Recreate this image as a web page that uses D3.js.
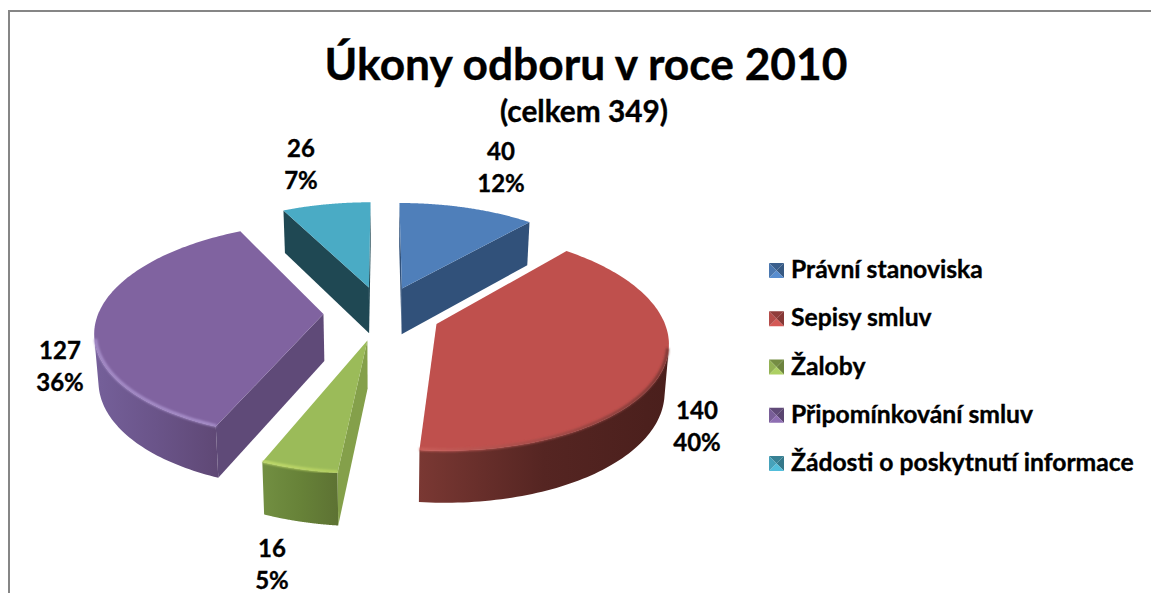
<!DOCTYPE html>
<html>
<head>
<meta charset="utf-8">
<script src="https://cdn.jsdelivr.net/npm/d3@7"></script>
<style>
  html, body { margin: 0; padding: 0; background: #fff; overflow: hidden; }
  svg { display: block; }
  text { font-family: Lato, "Open Sans", sans-serif; font-weight: 700; fill: #000; stroke: #000; stroke-width: 0.35px; }
</style>
</head>
<body>
<div id="chart"></div>
<script>
// data
const categories = ["Právní stanoviska", "Sepisy smluv", "Žaloby", "Připomínkování smluv", "Žádosti o poskytnutí informace"];
const values = [40, 140, 16, 127, 26];
const percents = ["12%", "40%", "5%", "36%", "7%"];

// colours, same order as categories
const topColors = ["#4f7fba", "#bf504d", "#9bbb59", "#8063a0", "#4aabc5"];
const cutColors = ["#31517a", "#5c2a28", "#84a04a", "#5f4a78", "#1f4853"];
const rimLeft = ["#3c6291", "#7a3833", "#728f42", "#75609a", "#38808f"];
const rimMid = ["#35567f", "#552522", "#678238", "#6a5489", "#30707f"];
const rimRight = ["#31517a", "#4a1f1c", "#5d7233", "#5f4875", "#2b6270"];
const bevelLeft = ["#6d99cf", "#cb5f5b", "#c3dd6d", "#a78fca", "#6fc5da"];
const bevelRight = ["#6d99cf", "#7a3734", "#b5d060", "#a78fca", "#6fc5da"];

// label layout: centre of each two line data label
const labelX = [501, 697, 272, 60, 301];
const labelY = [168, 427, 565, 367, 165];

const width = 1151, height = 593;

// perspective settings of the pie
const cx = 382, cy = 313;
const scaleX = 225, scaleY = 104.6, persp = 0.1466;
const explode = 0.26;
const depth = 46.9, depthPersp = 0.09;

function project(x, y, bottom) {
  const w = 1 + persp * y;
  let sx = scaleX * x / w;
  let sy = -scaleY * y / w;
  if (bottom) {
    sx = sx * 0.985;
    sy = sy + depth / (1 + depthPersp * y);
  }
  return [cx + sx, cy + sy];
}

function area(p) {
  let s = 0;
  for (let i = 0; i < p.length; i++) {
    const a = p[i], b = p[(i + 1) % p.length];
    s += a[0] * b[1] - b[0] * a[1];
  }
  return s / 2;
}

const svg = d3.select("#chart").append("svg")
  .attr("width", width)
  .attr("height", height);

const defs = svg.append("defs");
defs.append("filter").attr("id", "soft")
  .attr("x", "-10%").attr("y", "-10%").attr("width", "120%").attr("height", "120%")
  .append("feGaussianBlur").attr("stdDeviation", 0.9);

function sideGradient(id, x0, x1, colors) {
  const grad = defs.append("linearGradient")
    .attr("id", id)
    .attr("gradientUnits", "userSpaceOnUse")
    .attr("x1", x0).attr("y1", 0)
    .attr("x2", x1).attr("y2", 0);
  colors.forEach(function(c, k) {
    grad.append("stop")
      .attr("offset", k / (colors.length - 1))
      .attr("stop-color", c);
  });
}

// frame, only the top and left edges are inside the picture
svg.append("path")
  .attr("d", "M9,593V11H1151")
  .attr("fill", "none")
  .attr("stroke", "#868686")
  .attr("stroke-width", 2);

// title
svg.append("text").attr("x", 586).attr("y", 80)
  .attr("text-anchor", "middle").attr("font-size", 44.3)
  .text("Úkony odboru v roce 2010");
svg.append("text").attr("x", 584).attr("y", 122)
  .attr("text-anchor", "middle").attr("font-size", 29.8)
  .text("(celkem 349)");

// slices
const pie = d3.pie().sort(null)(values);
const line = d3.line();
const paintOrder = [4, 0, 3, 1, 2];

paintOrder.forEach(function(i) {
  const d = pie[i];
  const mid = (d.startAngle + d.endAngle) / 2;
  const ox = explode * Math.sin(mid), oy = explode * Math.cos(mid);
  const g = svg.append("g");

  const steps = d3.range(0, 121).map(function(k) {
    return d.startAngle + (d.endAngle - d.startAngle) * k / 120;
  });
  const rim = function(a, bottom) {
    return project(ox + Math.sin(a), oy + Math.cos(a), bottom);
  };
  const apexTop = project(ox, oy, false), apexBottom = project(ox, oy, true);

  // outer wall, only the part that faces the viewer
  const front = steps.filter(function(a, k) {
    if (k == steps.length - 1) return false;
    const b = steps[k + 1];
    return area([rim(a, false), rim(b, false), rim(b, true), rim(a, true)]) < 0;
  });
  if (front.length > 0) {
    front.push(front[front.length - 1] + (d.endAngle - d.startAngle) / 120);
    const wall = front.map(function(a) { return rim(a, false); })
      .concat(front.slice().reverse().map(function(a) { return rim(a, true); }));
    const xr = d3.extent(wall, function(p) { return p[0]; });
    sideGradient("wall" + i, xr[0], xr[1], [rimLeft[i], rimMid[i], rimRight[i]]);
    g.append("path")
      .attr("d", line(wall) + "Z")
      .attr("fill", "url(#wall" + i + ")");
    sideGradient("bevel" + i, xr[0], xr[1], [bevelLeft[i], bevelRight[i]]);
  }

  // the two cut faces
  const startFace = [apexTop, rim(d.startAngle, false), rim(d.startAngle, true), apexBottom];
  const endFace = [apexTop, rim(d.endAngle, false), rim(d.endAngle, true), apexBottom];
  if (area(startFace) < 0) {
    g.append("path").attr("d", line(startFace) + "Z").attr("fill", cutColors[i]);
  }
  if (area(endFace) > 0) {
    g.append("path").attr("d", line(endFace) + "Z").attr("fill", cutColors[i]);
  }

  // top of the slice
  const topPts = [apexTop].concat(steps.map(function(a) { return rim(a, false); }));
  g.append("path")
    .attr("d", line(topPts) + "Z")
    .attr("fill", topColors[i]);

  // soft bevel along the lit part of the rim
  if (front.length > 1) {
    g.append("path")
      .attr("d", line(front.map(function(a) {
        const r = 0.995;
        return project(ox + r * Math.sin(a), oy + r * Math.cos(a), false);
      })))
      .attr("fill", "none")
      .attr("stroke", "url(#bevel" + i + ")")
      .attr("stroke-width", 3)
      .attr("filter", "url(#soft)");
  }
});

// data labels
values.forEach(function(v, i) {
  const t = svg.append("text")
    .attr("text-anchor", "middle")
    .attr("font-size", 24);
  t.append("tspan").attr("x", labelX[i]).attr("y", labelY[i] - 8).text(v);
  t.append("tspan").attr("x", labelX[i]).attr("y", labelY[i] + 24).text(percents[i]);
});

// legend
const legendY = d3.scalePoint()
  .domain(categories)
  .range([270, 463]);
const box = 15;
categories.forEach(function(name, i) {
  const y = legendY(name), x = 769;
  const c = [x + box / 2, y + 0.5];
  const tl = [x, y - 7], tr = [x + box, y - 7], br = [x + box, y + 8], bl = [x, y + 8];
  const base = d3.color(topColors[i]);
  const faces = [
    [[tl, tr, c], base.darker(0.8)],
    [[tr, br, c], base.darker(1)],
    [[br, bl, c], base.brighter(0.3)],
    [[bl, tl, c], base.darker(0.15)]
  ];
  faces.forEach(function(f) {
    svg.append("path").attr("d", line(f[0]) + "Z").attr("fill", f[1]);
  });
  svg.append("text")
    .attr("x", 791).attr("y", y + 8)
    .attr("font-size", 24.7)
    .text(name);
});
</script>
</body>
</html>
